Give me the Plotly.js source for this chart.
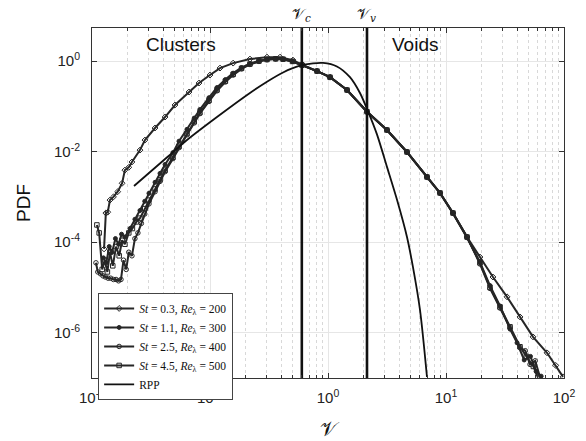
<!DOCTYPE html>
<html><head><meta charset="utf-8">
<script src="https://cdn.plot.ly/plotly-3.0.1.min.js"></script>
<style>body{margin:0;background:#fff}#c{width:586px;height:441px}</style>
</head><body><div id="c"></div>
<script>
// Series: St=0.3, Re=200 (broadest)
const xA = [0.01265,0.0131,0.0136,0.0142,0.0152,0.0165,0.018,0.019,0.0205,0.0218,0.0255,0.0281,0.0342,0.0416,0.0505,0.0664,0.0807,0.1,0.1216,0.157,0.218,0.304,0.392,0.505,0.614,0.807,1.04,1.45,2.14,3.16,4.67,6.9,8.9,11.46,15.07,19.4,25.0,32.9,42.4,54.6,71.8,85,98.2];
const yA = [7.1e-5,4.4e-4,4.6e-4,8.5e-4,1.0e-3,1.3e-3,2.0e-3,3.9e-3,4.5e-3,5.9e-3,1.08e-2,1.8e-2,3.32e-2,5.8e-2,0.107,0.207,0.327,0.491,0.70,0.90,1.106,1.22,1.22,1.05,0.816,0.60,0.44,0.229,0.0748,0.030,9.8e-3,2.75e-3,1.22e-3,4.4e-4,1.3e-4,4.7e-5,1.7e-5,6.2e-6,2.23e-6,8.1e-7,3.6e-7,1.9e-7,1.06e-7];
// Series: St=1.1, Re=300
const xB = [0.0125,0.0132,0.014,0.0148,0.0158,0.0168,0.0178,0.019,0.021,0.0231,0.0255,0.028,0.0304,0.0342,0.0377,0.0416,0.0485,0.0546,0.0638,0.0735,0.082,0.098,0.1146,0.135,0.157,0.185,0.218,0.26,0.304,0.36,0.416,0.5,0.6,0.807,1.04,1.45,2.14,3.16,4.67,6.9,8.9,11.46,15.07,19.4,23.6,28.7,34.9,40,46,52,58,64];
const yB = [4.5e-5,3.5e-5,8e-5,6e-5,1.2e-4,9e-5,1.5e-4,1.3e-4,2.0e-4,3.2e-4,5.0e-4,8e-4,1.2e-3,2.1e-3,3.3e-3,5.2e-3,9.5e-3,0.017,0.031,0.055,0.085,0.155,0.26,0.39,0.54,0.72,0.88,1.01,1.09,1.12,1.1,0.98,0.82,0.6,0.44,0.23,0.077,0.030,9.7e-3,2.7e-3,1.2e-3,4.3e-4,1.25e-4,3.6e-5,1.1e-5,3.9e-6,1.2e-6,6e-7,2.5e-7,3e-7,1.4e-7,1.1e-7];
// Series: St=2.5, Re=400
const xC = [0.0108,0.0112,0.0118,0.0124,0.013,0.0137,0.0144,0.0152,0.016,0.0168,0.0176,0.0185,0.0195,0.0205,0.0218,0.0231,0.0245,0.0262,0.028,0.0304,0.0342,0.0377,0.0416,0.0485,0.0546,0.0638,0.0735,0.082,0.098,0.1146,0.135,0.157,0.185,0.218,0.26,0.304,0.36,0.416,0.5,0.6,0.807,1.04,1.45,2.14,3.16,4.67,6.9,8.9,11.46,15.07,19.4,23.6,28.7,34.9,42.4,47,51.5,57,62.6];
const yC = [3.5e-5,2.2e-5,2.0e-5,1.8e-5,1.7e-5,1.6e-5,1.6e-5,1.5e-5,1.5e-5,1.4e-5,1.5e-5,4e-5,2.5e-5,6e-5,5e-5,1.2e-4,1.6e-4,2.6e-4,4.2e-4,7e-4,1.3e-3,2.2e-3,3.6e-3,7.0e-3,0.0122,0.0235,0.043,0.069,0.128,0.22,0.345,0.49,0.67,0.84,0.98,1.07,1.11,1.1,0.99,0.82,0.6,0.44,0.229,0.076,0.030,9.9e-3,2.8e-3,1.23e-3,4.4e-4,1.3e-4,3.3e-5,9.5e-6,3.5e-6,1.3e-6,4.7e-7,4e-7,2.0e-7,2.4e-7,1.05e-7];
// Series: St=4.5, Re=500
const xD = [0.011,0.0115,0.0122,0.0128,0.0135,0.0142,0.015,0.016,0.017,0.018,0.019,0.0205,0.022,0.0238,0.0255,0.028,0.0304,0.0342,0.0377,0.0416,0.0485,0.0546,0.0638,0.0735,0.082,0.098,0.1146,0.135,0.157,0.185,0.218,0.26,0.304,0.36,0.416,0.5,0.6,0.807,1.04,1.45,2.14,3.16,4.67,6.9,8.9,11.46,15.07,19.4,23.6,28.7,34.9,42.4,48,55,60];
const yD = [2.4e-4,1.6e-4,2.5e-5,4e-5,2.2e-5,6e-5,3e-5,8e-5,5e-5,1.1e-4,9e-5,1.6e-4,2.0e-4,2.8e-4,3.4e-4,5.5e-4,8.5e-4,1.5e-3,2.4e-3,3.9e-3,7.5e-3,0.013,0.025,0.046,0.072,0.135,0.23,0.36,0.51,0.69,0.86,1.0,1.08,1.12,1.1,0.98,0.82,0.6,0.44,0.229,0.076,0.030,9.8e-3,2.75e-3,1.22e-3,4.4e-4,1.3e-4,3.5e-5,1.0e-5,3.7e-6,1.35e-6,4.9e-7,3e-7,1.8e-7,1.05e-7];
// Random Poisson process
const xRPP = [0.0227,0.0433,0.0638,0.1146,0.218,0.304,0.416,0.579,0.746,0.908,1.19,1.535,1.866,2.14,2.60,3.16,3.85,4.67,5.25,6.02,6.9];
const yRPP = [1.74e-3,7.5e-3,0.018,0.058,0.197,0.35,0.56,0.79,0.89,0.91,0.76,0.44,0.197,0.088,0.024,4.6e-3,8.5e-4,1.3e-4,2.8e-5,3.2e-6,1.05e-7];
// Threshold volumes
const thresholdNames = ['\u{1D4B1}<sub><i>c</i></sub>', '\u{1D4B1}<sub><i>v</i></sub>'];
const thresholds = [0.6, 2.14];
const seriesNames = ['<i>St</i> = 0.3, <i>Re</i><sub>λ</sub> = 200','<i>St</i> = 1.1, <i>Re</i><sub>λ</sub> = 300','<i>St</i> = 2.5, <i>Re</i><sub>λ</sub> = 400','<i>St</i> = 4.5, <i>Re</i><sub>λ</sub> = 500','RPP'];
const xTicks = [0.01,0.1,1,10,100];
const xTickText = ['10<sup>-2</sup>','10<sup>-1</sup>','10<sup>0</sup>','10<sup>1</sup>','10<sup>2</sup>'];
const yTicks = [1e-6,1e-4,1e-2,1];
const yTickText = ['10<sup>-6</sup>','10<sup>-4</sup>','10<sup>-2</sup>','10<sup>0</sup>'];

const minorX = [];
for (let e = -2; e < 2; e++) for (let m = 2; m <= 9; m++) minorX.push(m * Math.pow(10, e));

const col = '#262626';
const sym = ['diamond-open','circle','circle-open','square-open'];
const xs = [xA,xB,xC,xD], ys = [yA,yB,yC,yD];
const traces = xs.map((x,i)=>({
  x: x, y: ys[i], type:'scatter', mode:'lines+markers', name: seriesNames[i],
  line:{color:col,width:2}, marker:{symbol:sym[i], size: i===1?4:4.5, color:col, line:{color:col,width:1}}
}));
traces.push({x:xRPP,y:yRPP,type:'scatter',mode:'lines',name:seriesNames[4],line:{color:'#111',width:1.8,shape:'spline',smoothing:0.8}});
thresholds.forEach(v=>traces.push({x:[v,v],y:[1e-9,100],type:'scatter',mode:'lines',showlegend:false,line:{color:'#111',width:2.6},hoverinfo:'skip'}));

const axFont = {family:'Liberation Sans, Arial, sans-serif', size:15, color:'#222'};
const layout = {
  width:586, height:441,
  margin:{l:92,r:22,t:28,b:63},
  paper_bgcolor:'#fff', plot_bgcolor:'#fff',
  showlegend:true,
  legend:{x:0.013,y:0.243,xanchor:'left',yanchor:'top',bgcolor:'#fff',bordercolor:'#444',borderwidth:1,
    font:{family:'Liberation Serif, DejaVu Serif, serif',size:11.5,color:'#111'},tracegroupgap:0,itemwidth:30},
  xaxis:{type:'log',range:[-2,2],tickmode:'array',tickvals:xTicks,ticktext:xTickText,tickfont:axFont,
    ticks:'inside',ticklen:5,tickcolor:'#333',showline:true,linecolor:'#333',linewidth:1,mirror:'ticks',
    showgrid:true,gridcolor:'#e6e6e6',gridwidth:1,zeroline:false,ticklabelstandoff:6,
    minor:{tickmode:'array',tickvals:minorX,ticks:'inside',ticklen:3,tickcolor:'#333',showgrid:true,gridcolor:'#d8d8d8',griddash:'dot',gridwidth:1},
    title:{text:'\u{1D4B1}',font:{family:'DejaVu Serif, serif',size:20,color:'#111'},standoff:20}},
  yaxis:{type:'log',range:[-7,0.73],tickmode:'array',tickvals:yTicks,ticktext:yTickText,tickfont:axFont,
    ticks:'inside',ticklen:5,tickcolor:'#333',showline:true,linecolor:'#333',linewidth:1,mirror:'ticks',
    showgrid:true,gridcolor:'#e6e6e6',gridwidth:1,zeroline:false,ticklabelstandoff:8,
    title:{text:'PDF',font:{family:'Liberation Sans, Arial, sans-serif',size:19,color:'#111'},standoff:18}},
  annotations:[
    {xref:'x',yref:'paper',x:Math.log10(thresholds[0]),y:1,xanchor:'center',yanchor:'bottom',yshift:2,showarrow:false,text:thresholdNames[0],font:{family:'DejaVu Serif, serif',size:15,color:'#111'}},
    {xref:'x',yref:'paper',x:Math.log10(thresholds[1]),y:1,xanchor:'center',yanchor:'bottom',yshift:2,showarrow:false,text:thresholdNames[1],font:{family:'DejaVu Serif, serif',size:15,color:'#111'}},
    {xref:'paper',yref:'paper',x:0.189,y:0.954,xanchor:'center',yanchor:'middle',showarrow:false,text:'Clusters',font:{family:'Liberation Sans, Arial, sans-serif',size:19,color:'#111'}},
    {xref:'paper',yref:'paper',x:0.684,y:0.954,xanchor:'center',yanchor:'middle',showarrow:false,text:'Voids',font:{family:'Liberation Sans, Arial, sans-serif',size:19,color:'#111'}}
  ]
};
Plotly.newPlot('c', traces, layout, {staticPlot:true});
</script></body></html>
